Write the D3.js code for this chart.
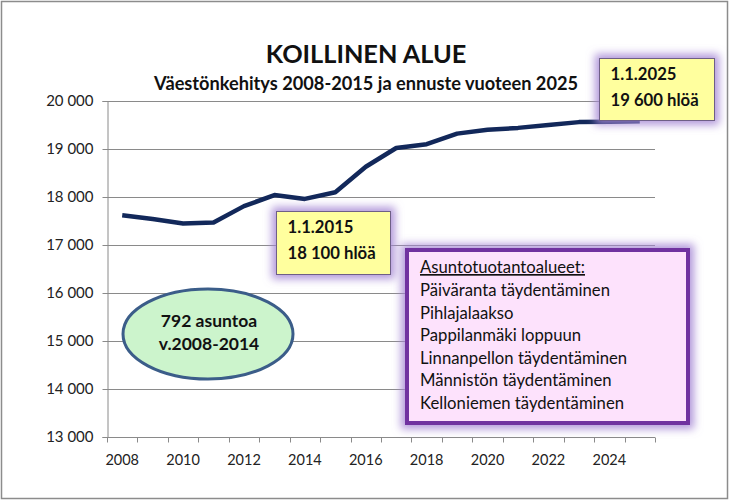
<!DOCTYPE html>
<html><head><meta charset="utf-8">
<script src="https://cdn.jsdelivr.net/npm/d3@7"></script>
<style>body{margin:0;background:#fff}svg{display:block}text{font-family:Lato,"Liberation Sans",sans-serif}</style>
</head><body><svg id="c" width="730" height="501"></svg>
<script>
const years = [2008,2009,2010,2011,2012,2013,2014,2015,2016,2017,2018,2019,2020,2021,2022,2023,2024,2025];
const population = [17620,17540,17450,17470,17810,18040,17960,18100,18630,19020,19100,19320,19400,19440,19500,19560,19570,19580];
const yTicks = [13000,14000,15000,16000,17000,18000,19000,20000];
const xLabelYears = [2008,2010,2012,2014,2016,2018,2020,2022,2024];
const title = "KOILLINEN ALUE";
const subtitle = "Väestönkehitys 2008-2015 ja ennuste vuoteen 2025";
const note2015 = ["1.1.2015","18 100 hlöä"];
const note2025 = ["1.1.2025","19 600 hlöä"];
const ellipseText = ["792 asuntoa","v.2008-2014"];
const areaTitle = "Asuntotuotantoalueet:";
const areas = ["Päiväranta täydentäminen","Pihlajalaakso","Pappilanmäki loppuun","Linnanpellon täydentäminen","Männistön täydentäminen","Kelloniemen täydentäminen"];

const svg = d3.select("#c");
const defs = svg.append("defs");
const f = defs.append("filter").attr("id","glow").attr("x","-30%").attr("y","-30%").attr("width","160%").attr("height","160%");
f.append("feMorphology").attr("in","SourceAlpha").attr("operator","dilate").attr("radius",4).attr("result","d");
f.append("feGaussianBlur").attr("in","d").attr("stdDeviation",4.5).attr("result","b");
f.append("feFlood").attr("flood-color","#a486d4").attr("flood-opacity",0.85);
f.append("feComposite").attr("in2","b").attr("operator","in").attr("result","g");
const m = f.append("feMerge"); m.append("feMergeNode").attr("in","g"); m.append("feMergeNode").attr("in","SourceGraphic");

svg.append("rect").attr("x",1.5).attr("y",1.5).attr("width",726).attr("height",497).attr("fill","#fff").attr("stroke","#8c8c8c").attr("stroke-width",1.5);

const x = d3.scaleBand().domain(years).range([107,655]).paddingInner(0).paddingOuter(0);
const y = d3.scaleLinear().domain([13000,20000]).range([437,101]);

// gridlines
svg.append("g").selectAll("line").data(yTicks.slice(1)).join("line")
  .attr("x1",107).attr("x2",655).attr("y1",d=>Math.round(y(d))+0.5).attr("y2",d=>Math.round(y(d))+0.5)
  .attr("stroke","#8a8a8a").attr("stroke-width",1);

// y axis
const ya = svg.append("g").attr("transform","translate(107.5,0)")
  .call(d3.axisLeft(y).tickValues(yTicks).tickSize(5).tickPadding(9).tickFormat(d=>d3.format(",")(d).replace(",", " ")));
ya.select(".domain").attr("stroke","#8a8a8a");
ya.selectAll(".tick line").attr("stroke","#8a8a8a");
ya.selectAll("text").attr("font-size",15).attr("fill","#222").style("font-family","Lato");

// x axis
const xa = svg.append("g").attr("transform","translate(0,437.5)");
xa.append("line").attr("x1",107).attr("x2",655).attr("stroke","#8a8a8a");
const edges = years.map(d=>x(d)).concat([x(years[years.length-1])+x.bandwidth()]);
xa.selectAll("line.t").data(edges).join("line").attr("class","t")
  .attr("x1",d=>Math.round(d)+0.5).attr("x2",d=>Math.round(d)+0.5).attr("y1",0).attr("y2",5).attr("stroke","#8a8a8a");
xa.selectAll("text").data(xLabelYears).join("text")
  .attr("x",d=>x(d)+x.bandwidth()/2).attr("y",27).attr("text-anchor","middle")
  .attr("font-size",14.5).attr("fill","#222").text(d=>d);

// line
svg.append("path").datum(years.map((d,i)=>[d,population[i]]))
  .attr("d", d3.line().x(d=>x(d[0])+x.bandwidth()/2).y(d=>y(d[1])))
  .attr("fill","none").attr("stroke","#12285a").attr("stroke-width",4.5).attr("stroke-linejoin","round").attr("stroke-linecap","butt");

// titles
svg.append("text").attr("x",366).attr("y",63).attr("text-anchor","middle").attr("font-size",25.3).attr("font-weight","bold").attr("fill","#111").text(title);
svg.append("text").attr("x",366).attr("y",90).attr("text-anchor","middle").attr("font-size",18.2).attr("font-weight","bold").attr("fill","#111").text(subtitle);

// ellipse
svg.append("ellipse").attr("cx",208).attr("cy",334).attr("rx",85).attr("ry",45)
  .attr("fill","#ccf4cc").attr("stroke","#3b5d89").attr("stroke-width",3);
svg.append("g").selectAll("text").data(ellipseText).join("text")
  .attr("x",209).attr("y",(d,i)=>327+i*23).attr("text-anchor","middle").attr("font-size",17.5).attr("font-weight","bold").attr("fill","#111").text(d=>d);

// yellow notes
function note(x0,y0,w,h,lines){
  const g = svg.append("g");
  g.append("rect").attr("x",x0).attr("y",y0).attr("width",w).attr("height",h)
    .attr("fill","#ffff9e").attr("stroke","#6e5f86").attr("stroke-width",1).attr("filter","url(#glow)");
  g.selectAll("text").data(lines).join("text").attr("x",x0+11).attr("y",(d,i)=>y0+21+i*26)
    .attr("font-size",16.7).attr("font-weight","bold").attr("fill","#111").text(d=>d);
}
note(276.5,211.5,114,63,note2015);
note(599.5,58.5,115,62,note2025);

// purple box
svg.append("rect").attr("x",407).attr("y",250).attr("width",281).attr("height",173)
  .attr("fill","#fde2fc").attr("stroke","#7030a0").attr("stroke-width",4).attr("filter","url(#glow)");
svg.append("text").attr("x",420).attr("y",273).attr("font-size",16.7).attr("fill","#111")
  .attr("text-decoration","underline").text(areaTitle);
svg.append("g").selectAll("text").data(areas).join("text")
  .attr("x",420).attr("y",(d,i)=>296+i*22.6).attr("font-size",16.7).attr("fill","#111").text(d=>d);
</script></body></html>
